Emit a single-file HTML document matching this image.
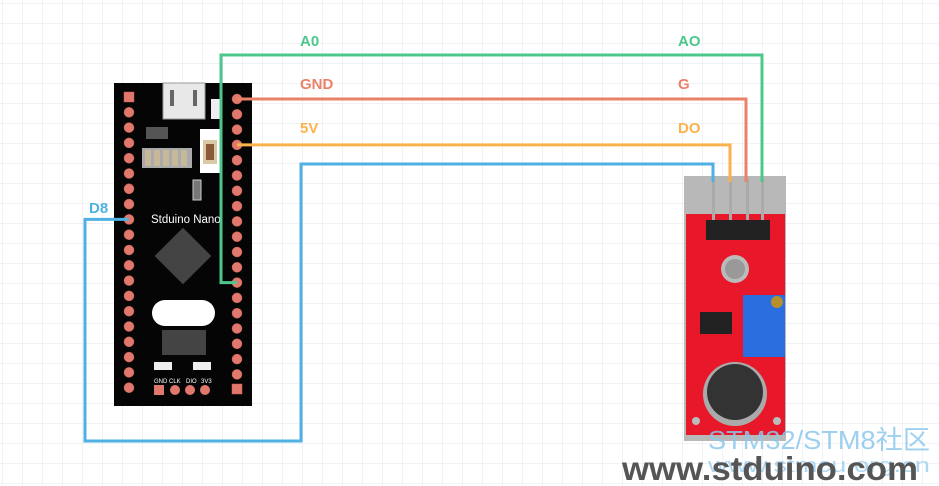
<!DOCTYPE html>
<html><head><meta charset="utf-8"><style>
html,body{margin:0;padding:0;background:#fff}
svg{display:block}
text{font-family:"Liberation Sans",sans-serif}
</style></head><body>
<svg width="939" height="486" viewBox="0 0 939 486" xmlns="http://www.w3.org/2000/svg">
<defs>
<pattern id="g" width="20" height="20" patternUnits="userSpaceOnUse" x="3" y="4">
<path d="M20 0V20M0 20H20" fill="none" stroke="#e2e5ec" stroke-width="1"/>
</pattern>
</defs>
<rect width="939" height="486" fill="#fff"/>
<rect width="939" height="486" fill="url(#g)"/>

<!-- board -->
<rect x="114" y="83" width="138" height="323" fill="#050505"/>
<rect x="163" y="83" width="42" height="36" fill="#e8e8e8" stroke="#999"/>
<rect x="170" y="90" width="4" height="16" fill="#666"/><rect x="193" y="90" width="4" height="16" fill="#666"/>
<rect x="211" y="99" width="10" height="20" fill="#eee"/>
<rect x="146" y="127" width="22" height="12" fill="#555"/>
<rect x="142" y="148" width="50" height="20" fill="#aaa"/>
<g fill="#c8b89a"><rect x="145" y="150" width="6" height="16"/><rect x="154" y="150" width="6" height="16"/><rect x="163" y="150" width="6" height="16"/><rect x="172" y="150" width="6" height="16"/><rect x="181" y="150" width="6" height="16"/></g>
<rect x="200" y="129" width="20" height="44" fill="#fff"/>
<rect x="203" y="140" width="14" height="24" fill="#d9c9a5"/><rect x="206" y="144" width="8" height="16" fill="#8a5a3a"/>
<rect x="193" y="180" width="8" height="20" fill="#777" stroke="#ccc"/>
<text x="151" y="223" font-size="11.5" fill="#fff">Stduino Nano</text>
<rect x="163" y="236" width="40" height="40" fill="#444" transform="rotate(45 183 256)"/>
<rect x="152" y="300" width="63" height="26" rx="13" fill="#fff"/>
<rect x="162" y="330" width="44" height="25" fill="#444"/>
<rect x="154" y="362" width="18" height="8" fill="#eee"/><rect x="193" y="362" width="18" height="8" fill="#eee"/>
<g font-size="6" fill="#fff"><text x="154" y="383">GND</text><text x="169" y="383">CLK</text><text x="186" y="383">DIO</text><text x="201" y="383">3V3</text></g>
<rect x="154" y="385" width="10" height="10" fill="#e0786e"/>
<g fill="#e0786e"><circle cx="175" cy="390" r="5"/><circle cx="190" cy="390" r="5"/><circle cx="205" cy="390" r="5"/></g>
<g fill="#e0786e" stroke="#c86050" stroke-width="0.5">
<rect x="124" y="92" width="10" height="10"/>
<circle cx="129" cy="112.3" r="5"/><circle cx="129" cy="127.6" r="5"/><circle cx="129" cy="142.9" r="5"/><circle cx="129" cy="158.2" r="5"/><circle cx="129" cy="173.5" r="5"/><circle cx="129" cy="188.8" r="5"/><circle cx="129" cy="204.1" r="5"/><circle cx="129" cy="219.4" r="5"/><circle cx="129" cy="234.7" r="5"/><circle cx="129" cy="250" r="5"/><circle cx="129" cy="265.3" r="5"/><circle cx="129" cy="280.6" r="5"/><circle cx="129" cy="295.9" r="5"/><circle cx="129" cy="311.2" r="5"/><circle cx="129" cy="326.5" r="5"/><circle cx="129" cy="341.8" r="5"/><circle cx="129" cy="357.1" r="5"/><circle cx="129" cy="372.4" r="5"/><circle cx="129" cy="387.7" r="5"/>
<circle cx="237" cy="99" r="5"/><circle cx="237" cy="114.3" r="5"/><circle cx="237" cy="129.6" r="5"/><circle cx="237" cy="144.9" r="5"/><circle cx="237" cy="160.2" r="5"/><circle cx="237" cy="175.5" r="5"/><circle cx="237" cy="190.8" r="5"/><circle cx="237" cy="206.1" r="5"/><circle cx="237" cy="221.4" r="5"/><circle cx="237" cy="236.7" r="5"/><circle cx="237" cy="252" r="5"/><circle cx="237" cy="267.3" r="5"/><circle cx="237" cy="282.6" r="5"/><circle cx="237" cy="297.9" r="5"/><circle cx="237" cy="313.2" r="5"/><circle cx="237" cy="328.5" r="5"/><circle cx="237" cy="343.8" r="5"/><circle cx="237" cy="359.1" r="5"/><circle cx="237" cy="374.4" r="5"/>
<rect x="232" y="384" width="10" height="10"/>
</g>

<!-- sensor module -->
<rect x="684" y="176" width="102" height="265" fill="#b8b8b8"/>
<rect x="686" y="214" width="99" height="221" fill="#e8182a"/>
<g fill="#aaa"><rect x="712" y="178" width="3" height="45"/><rect x="729" y="178" width="3" height="45"/><rect x="746" y="178" width="3" height="45"/><rect x="761" y="178" width="3" height="45"/></g>
<rect x="706" y="220" width="64" height="20" fill="#222"/>
<circle cx="735" cy="269" r="14" fill="#bbb"/><circle cx="735" cy="269" r="10" fill="#999"/>
<rect x="743" y="295" width="42" height="62" fill="#2a6ee0"/>
<circle cx="777" cy="302" r="6" fill="#b8902a"/>
<rect x="700" y="312" width="32" height="22" fill="#222"/>
<circle cx="735" cy="394" r="32" fill="#aaa"/><circle cx="735" cy="392" r="28" fill="#333"/>
<circle cx="696" cy="421" r="4" fill="#bbb"/><circle cx="777" cy="421" r="4" fill="#bbb"/>

<!-- wires -->
<g fill="none" stroke-width="3">
<path d="M237 282.6H221V55H762V182" stroke="#4cc88c"/>
<path d="M237 99H746V182" stroke="#ea8268"/>
<path d="M237 144.9H730V182" stroke="#fbb24c"/>
<path d="M129 219.4H85V441H301V164H713V182" stroke="#4fb0e4"/>
</g>
<g font-size="15" font-weight="bold">
<text x="300" y="46" fill="#4cc88c">A0</text>
<text x="300" y="89" fill="#ea8268">GND</text>
<text x="300" y="133" fill="#fbb24c">5V</text>
<text x="678" y="46" fill="#4cc88c">AO</text>
<text x="678" y="89" fill="#ea8268">G</text>
<text x="678" y="133" fill="#fbb24c">DO</text>
<text x="89" y="213" fill="#4fb0e4">D8</text>
</g>
<!-- watermark -->
<text x="708" y="449" font-size="26" fill="#8cc8ec" fill-opacity="0.85" textLength="222" lengthAdjust="spacingAndGlyphs" font-family="Liberation Sans,Noto Sans CJK SC,sans-serif">STM32/STM8社区</text>
<text x="708" y="472" font-size="20" fill="#8cc8ec" fill-opacity="0.7" textLength="222" lengthAdjust="spacingAndGlyphs">www.stmcu.org.cn</text>
<text x="622" y="480" font-size="33" font-weight="bold" fill="#555" textLength="296" lengthAdjust="spacingAndGlyphs">www.stduino.com</text>
</svg>
</body></html>
